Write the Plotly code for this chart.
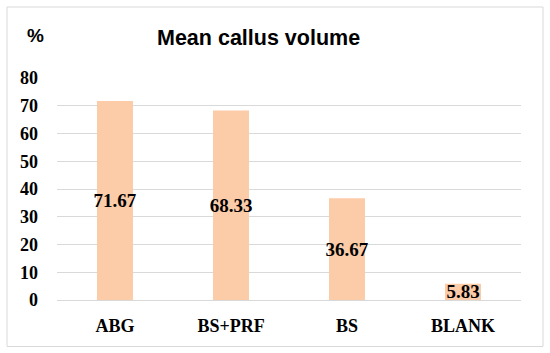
import plotly.graph_objects as go

categories = ["ABG", "BS+PRF", "BS", "BLANK"]
values = [71.67, 68.33, 36.67, 5.83]
value_labels = ["71.67", "68.33", "36.67", "5.83"]
y_ticks = [0, 10, 20, 30, 40, 50, 60, 70, 80]

L, R, T, B = 57, 29, 78, 53
W, H = 550, 353
pw = W - L - R
ph = H - T - B

def px_x(p):
    return (p - L) / pw

def px_y(p):
    return (H - B - p) / ph

fig = go.Figure()
fig.add_trace(go.Bar(
    x=categories, y=values, text=value_labels,
    textposition="inside", insidetextanchor="middle", constraintext="none",
    textangle=0,
    textfont=dict(family="Liberation Serif", size=19, color="black", weight="bold"),
    marker=dict(color="#FCCBA8", line=dict(width=0)),
    width=0.31, cliponaxis=False, hoverinfo="skip",
))

fig.update_layout(
    width=W, height=H,
    margin=dict(l=L, r=R, t=T, b=B),
    paper_bgcolor="white", plot_bgcolor="white",
    showlegend=False,
    xaxis=dict(
        showgrid=False, showline=True, linecolor="#D9D9D9", linewidth=1,
        tickfont=dict(family="Liberation Serif", size=18, color="black", weight="bold"),
        ticks="", ticklabelstandoff=9, automargin=False,
    ),
    yaxis=dict(
        range=[0, 80], tickvals=y_ticks, showgrid=True, gridcolor="#D9D9D9", gridwidth=1,
        zeroline=False, showline=False,
        tickfont=dict(family="Liberation Serif", size=18, color="black", weight="bold"),
        ticks="", ticklabelstandoff=18, automargin=False,
    ),
    shapes=[dict(type="rect", xref="paper", yref="paper",
                 x0=px_x(7), x1=px_x(543), y0=px_y(346.5), y1=px_y(7),
                 line=dict(color="#D9D9D9", width=1), layer="below")],
    annotations=[
        dict(text="Mean callus volume", xref="paper", yref="paper", x=px_x(258), y=px_y(38),
             xanchor="center", yanchor="middle", showarrow=False,
             font=dict(family="Liberation Sans", size=21.5, color="black", weight="bold")),
        dict(text="%", xref="paper", yref="paper", x=px_x(35), y=px_y(36),
             xanchor="center", yanchor="middle", showarrow=False,
             font=dict(family="Liberation Sans", size=19, color="black", weight="bold")),
    ],
)

fig.write_html("out.html", config={"displayModeBar": False},
               post_script="document.body.style.margin='0';")
